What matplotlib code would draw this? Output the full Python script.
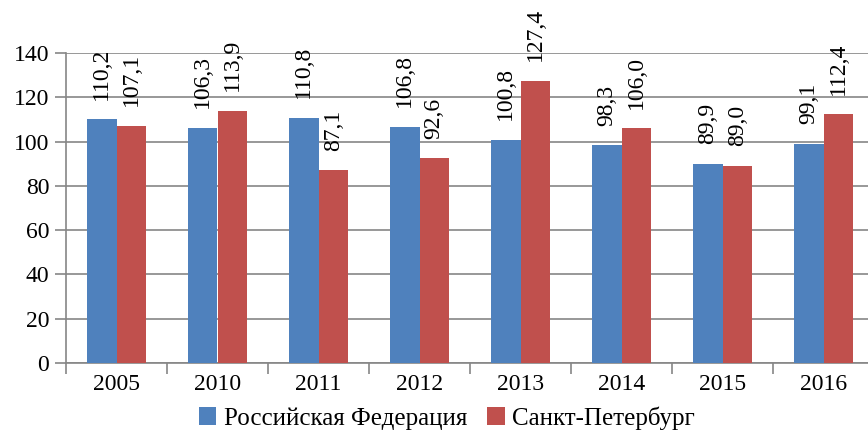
import numpy as np
import matplotlib
matplotlib.use("Agg")
import matplotlib.pyplot as plt

# данные
years = ['2005', '2010', '2011', '2012', '2013', '2014', '2015', '2016']
rf = [110.2, 106.3, 110.8, 106.8, 100.8, 98.3, 89.9, 99.1]
spb = [107.1, 113.9, 87.1, 92.6, 127.4, 106.0, 89.0, 112.4]
names = ['Российская Федерация', 'Санкт-Петербург']

plt.rcParams['font.family'] = ['Liberation Serif', 'DejaVu Serif']

fig = plt.figure(figsize=(8.68, 4.34), dpi=100)
ax = fig.add_axes([66/868, 1 - 363/434, 808/868, 310/434])

x = np.arange(len(years))
w = 0.29
b1 = ax.bar(x - w/2, rf, w, color='#4F81BD', label=names[0], zorder=3)
b2 = ax.bar(x + w/2, spb, w, color='#C0504D', label=names[1], zorder=3)

for bars, vals in ((b1, rf), (b2, spb)):
    for r, v in zip(bars, vals):
        ax.annotate(f'{v:.1f}'.replace('.', ','),
                    (r.get_x() + r.get_width()/2, r.get_height()),
                    xytext=(0, 14), textcoords='offset points',
                    rotation=90, ha='center', va='bottom',
                    fontsize=17, annotation_clip=False)

ax.set_ylim(0, 140)
ax.set_yticks(range(0, 141, 20))
ax.set_xlim(-0.5, len(years) - 0.5)
ax.set_xticks(np.arange(len(years) + 1) - 0.5)
ax.set_xticklabels([])
ax.set_xticks(x, minor=True)
ax.set_xticklabels(years, minor=True)
ax.tick_params(axis='x', which='minor', length=0, labelsize=17, pad=8)
ax.tick_params(axis='x', which='major', length=8, color='#868686', width=1.2)
ax.tick_params(axis='y', labelsize=17, length=8, color='#868686', width=1.2, pad=4)

ax.yaxis.grid(True, color='#868686', linewidth=1.2, zorder=0)
for s in ('top', 'right'):
    ax.spines[s].set_visible(False)
for s in ('left', 'bottom'):
    ax.spines[s].set_color('#868686')
    ax.spines[s].set_linewidth(1.2)

fig.legend(handles=[b1, b2], loc='center', bbox_to_anchor=(0.515, 1 - 418/434),
           ncol=2, frameon=False, prop={'family': 'Liberation Serif', 'size': 18},
           handlelength=0.7, handleheight=0.7,
           handletextpad=0.3, columnspacing=0.8, borderpad=0)

fig.savefig('out.png', dpi=100)
